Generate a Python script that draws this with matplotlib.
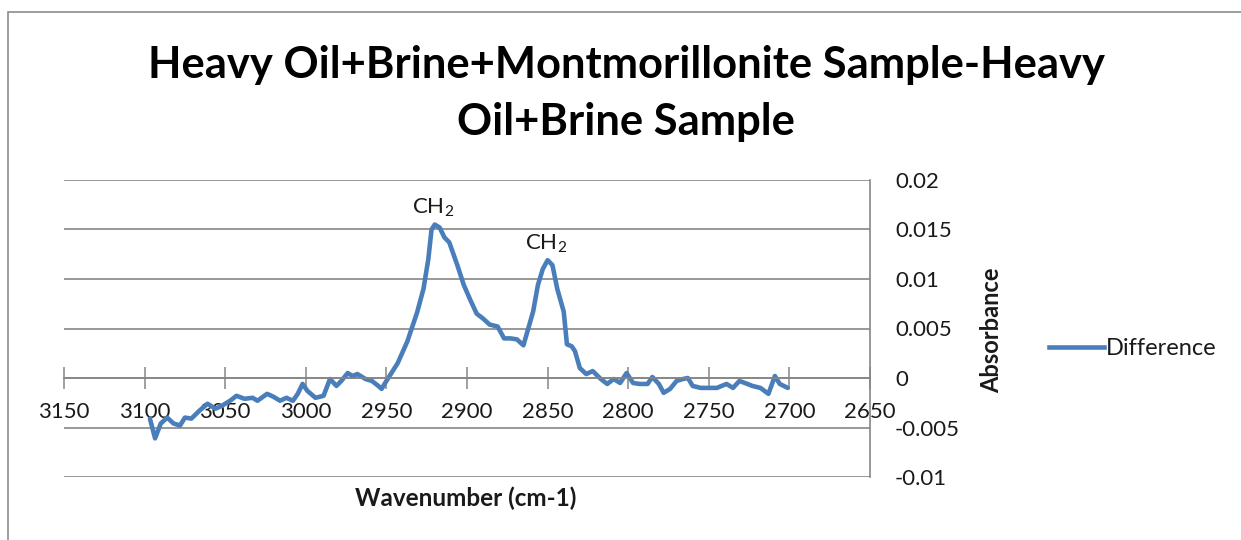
import matplotlib
matplotlib.use("Agg")
import matplotlib.pyplot as plt
from matplotlib.patches import Rectangle
from matplotlib.lines import Line2D

plt.rcParams['font.family'] = ['Lato', 'DejaVu Sans']
plt.rcParams['mathtext.fontset'] = 'custom'
plt.rcParams['mathtext.rm'] = 'Lato'
plt.rcParams['mathtext.it'] = 'Lato'

title_lines = ["Heavy Oil+Brine+Montmorillonite Sample-Heavy", "Oil+Brine Sample"]
x_label = "Wavenumber (cm-1)"
y_label = "Absorbance"
series_name = "Difference"

wavenumber = [3096.7, 3093.5, 3090, 3086, 3082, 3078, 3075, 3071, 3066, 3061, 3056, 3052,
              3047, 3043, 3038, 3033, 3030, 3024, 3020, 3016, 3012, 3008, 3005, 3002,
              2999, 2994, 2989, 2985, 2981, 2978, 2974, 2971, 2968, 2963, 2959, 2955,
              2953, 2950, 2943, 2937, 2931, 2927, 2924, 2922, 2920, 2917, 2914, 2911,
              2906, 2902, 2898, 2894, 2890, 2886, 2881, 2877, 2873, 2869, 2865, 2862,
              2859, 2856, 2853, 2850, 2847, 2844, 2840, 2838, 2835, 2833, 2830, 2826,
              2822, 2817, 2813, 2809, 2805, 2801, 2797, 2793, 2788, 2785, 2781, 2778,
              2774, 2770, 2766, 2763, 2760, 2755, 2749, 2745, 2739, 2735, 2731, 2726,
              2723, 2718, 2713, 2709, 2706, 2701]
absorbance = [-0.0041, -0.0061, -0.0046, -0.0040, -0.0046, -0.0048, -0.0040, -0.0041,
              -0.0033, -0.0026, -0.0031, -0.0028, -0.0023, -0.0018, -0.0021, -0.0020,
              -0.0023, -0.0016, -0.0019, -0.0023, -0.0020, -0.0023, -0.0016, -0.0006,
              -0.0013, -0.0020, -0.0018, -0.0001, -0.0008, -0.0003, 0.0005, 0.0002,
              0.0004, -0.0001, -0.0003, -0.0008, -0.0011, -0.0003, 0.0015, 0.0037,
              0.0066, 0.0090, 0.0120, 0.0150, 0.0155, 0.0152, 0.0142, 0.0137,
              0.0114, 0.0094, 0.0079, 0.0065, 0.0060, 0.0054, 0.0052, 0.0040,
              0.0040, 0.0039, 0.0033, 0.0050, 0.0067, 0.0094, 0.0110, 0.0119,
              0.0114, 0.0090, 0.0067, 0.0034, 0.0032, 0.0027, 0.0010, 0.0004,
              0.0007, -0.0001, -0.0006, -0.0001, -0.0005, 0.0005, -0.0005, -0.0006,
              -0.0006, 0.0001, -0.0006, -0.0015, -0.0011, -0.0003, -0.0001, 0.0000,
              -0.0008, -0.0010, -0.0010, -0.0010, -0.0006, -0.0010, -0.0003, -0.0006,
              -0.0008, -0.0010, -0.0016, 0.0002, -0.0006, -0.0010]

peak_labels = ["CH$_2$", "CH$_2$"]
peak_wn = [2920, 2850]
peak_val = [0.0155, 0.0119]

x_ticks = [3150, 3100, 3050, 3000, 2950, 2900, 2850, 2800, 2750, 2700, 2650]
y_ticks = [-0.01, -0.005, 0, 0.005, 0.01, 0.015, 0.02]
y_tick_labels = ["-0.01", "-0.005", "0", "0.005", "0.01", "0.015", "0.02"]

W, H = 1241, 540
fig = plt.figure(figsize=(W / 100, H / 100), dpi=100)
fig.patch.set_facecolor('white')

# outer chart border
fig.patches.append(Rectangle((8 / W, -0.05), 1.2, (H - 12) / H + 0.05, transform=fig.transFigure,
                             fill=False, edgecolor='#8c8c8c', linewidth=1.2))

ax = fig.add_axes([64 / W, (H - 477) / H, (870 - 64) / W, (477 - 180) / H])
ax.set_xlim(3150, 2650)
ax.set_ylim(-0.01, 0.02)

grid_c = '#868686'
txt_c = '#1a1a1a'
tick_fs = 16
ax.set_yticks(y_ticks)
ax.set_yticklabels(y_tick_labels)
ax.yaxis.tick_right()
ax.tick_params(axis='y', length=0, pad=18, labelsize=tick_fs, labelcolor=txt_c)
for t in ax.get_yticklabels():
    t.set_horizontalalignment('left')
ax.yaxis.grid(True, color=grid_c, linewidth=1.2)
ax.set_axisbelow(True)

ax.set_xticks(x_ticks)
ax.set_xticklabels([str(v) for v in x_ticks])
ax.tick_params(axis='x', direction='inout', length=16, width=1.1, color=grid_c,
               pad=9, labelsize=tick_fs, labelcolor=txt_c)

for s in ['top', 'left']:
    ax.spines[s].set_visible(False)
ax.spines['bottom'].set_position(('data', 0))
ax.spines['bottom'].set_color(grid_c)
ax.spines['bottom'].set_linewidth(1.2)
ax.spines['right'].set_color(grid_c)
ax.spines['right'].set_linewidth(1.2)

ax.plot(wavenumber, absorbance, color='#4a7ebb', linewidth=3.3,
        solid_joinstyle='round', solid_capstyle='round', label=series_name, clip_on=False)

for lab, wx, wy in zip(peak_labels, peak_wn, peak_val):
    ax.annotate(lab, xy=(wx, wy), xytext=(-1, 4), textcoords='offset points',
                ha='center', va='bottom', fontsize=16, color=txt_c)

# title, fitted to the reference width
renderer = fig.canvas.get_renderer()
t1 = fig.text(626 / W, 1 - 65 / H, title_lines[0], ha='center', va='center', fontsize=30,
              fontweight='bold', color='black')
w1 = t1.get_window_extent(renderer).width
fs = 30 * 957 / w1
t1.set_fontsize(fs)
fig.text(626 / W, 1 - 122 / H, title_lines[1], ha='center', va='center', fontsize=fs,
         fontweight='bold', color='black')

fig.text(466 / W, 1 - 498 / H, x_label, ha='center', va='center', fontsize=17.5,
         fontweight='bold', color=txt_c)
fig.text(992 / W, 1 - 330 / H, y_label, ha='center', va='center', rotation=90,
         fontsize=17, fontweight='bold', color=txt_c)

fig.legend(handles=[Line2D([], [], color='#4a7ebb', linewidth=3.3)], labels=[series_name],
           loc='center left', bbox_to_anchor=(1028 / W, 1 - 349 / H), frameon=False,
           handlelength=2.3, handletextpad=0.1, fontsize=17, labelcolor=txt_c)

fig.savefig('out.png', dpi=100, facecolor='white')
